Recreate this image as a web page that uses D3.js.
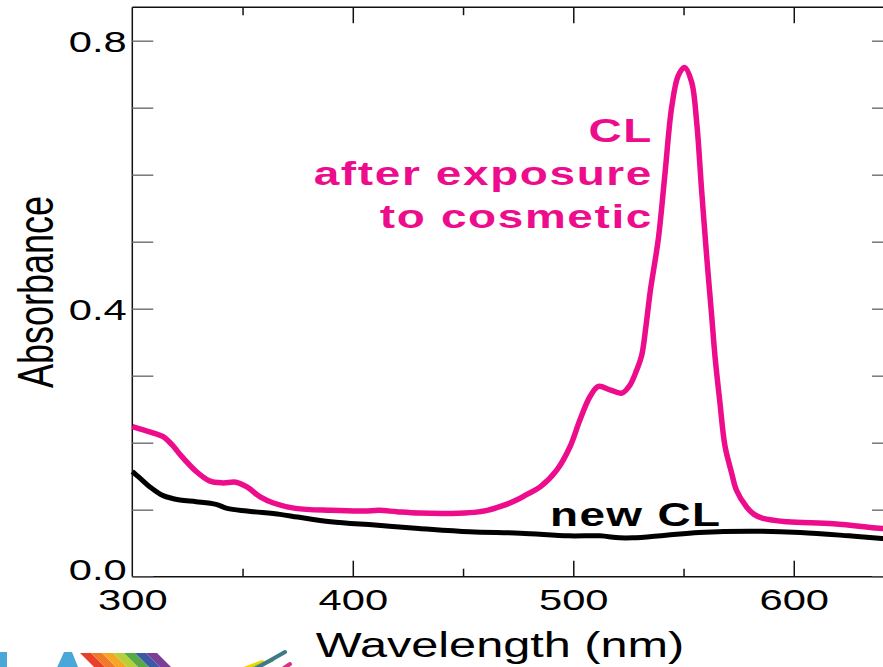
<!DOCTYPE html>
<html>
<head>
<meta charset="utf-8">
<script src="https://cdn.jsdelivr.net/npm/d3@7"></script>
<style>
  html, body { margin: 0; padding: 0; background: #fff; overflow: hidden; }
  svg { display: block; font-family: "Liberation Sans", Arial, sans-serif; }
</style>
</head>
<body>
<div id="main"></div>
<script>
// wavelength (nm) / absorbance
var exposedWl = [300, 305, 310, 314, 318, 322, 329, 335, 341, 347, 352, 358, 364, 374, 390, 405, 412, 420, 430, 445, 455, 461, 468, 474, 479, 485, 492.5, 498.5, 503, 507.6, 511.4, 516.6, 522, 525.7, 528.7, 531, 533, 535, 538.6, 541.6, 544.6, 547.6, 550.5, 553.7, 556, 558.2, 560.5, 562.8, 564.3, 566.5, 568.8, 571.8, 574, 578.6, 582, 586, 597, 618, 640, 645];
var exposedAbs = [0.224, 0.219, 0.214, 0.209, 0.197, 0.181, 0.157, 0.143, 0.140, 0.141, 0.134, 0.119, 0.110, 0.102, 0.099, 0.098, 0.099, 0.097, 0.095, 0.0945, 0.096, 0.099, 0.106, 0.114, 0.123, 0.134, 0.159, 0.194, 0.234, 0.269, 0.284, 0.279, 0.274, 0.286, 0.308, 0.330, 0.375, 0.428, 0.505, 0.602, 0.700, 0.748, 0.760, 0.738, 0.677, 0.577, 0.478, 0.388, 0.328, 0.260, 0.195, 0.155, 0.129, 0.104, 0.093, 0.087, 0.082, 0.079, 0.072, 0.071];

var newWl = [300, 303.5, 308, 314, 321.6, 329, 338, 343, 352, 367, 375, 390, 410, 430, 453, 476, 498, 512, 521, 527, 542, 557, 580, 603, 625, 640, 645];
var newAbs = [0.157, 0.147, 0.134, 0.121, 0.1145, 0.112, 0.108, 0.102, 0.098, 0.093, 0.089, 0.082, 0.077, 0.072, 0.067, 0.065, 0.061, 0.061, 0.058, 0.058, 0.062, 0.066, 0.068, 0.066, 0.061, 0.057, 0.056];

var xMajor = [300, 400, 500, 600];
var xMinor = [350, 450, 550, 650];
var yTicks = [0, 0.1, 0.2, 0.3, 0.4, 0.5, 0.6, 0.7, 0.8];
var yLabelled = [0, 0.4, 0.8];

const w = 883, h = 667;
const stretch = 1.39;   // the picture is widened horizontally
const pink = '#ed0c8b';

const x = d3.scaleLinear().domain([300, 645]).range([132.3, 893]);
const y = d3.scaleLinear().domain([0, 0.85]).range([576.7, 7.2]);

const svg = d3.select('#main').append('svg')
    .attr('width', w)
    .attr('height', h);

// logo pieces cut off at the bottom
const logo = svg.append('g');
logo.append('rect').attr('x', 0).attr('y', 652).attr('width', 7).attr('height', 20).attr('fill', '#4aa8d8');
logo.append('path').attr('d', 'M55,672 L64,652 L72,652 L80,672 Z').attr('fill', '#4aa8d8');
['#e8402a', '#f07a2a', '#f5a623', '#b7cf3a', '#5aa948', '#3b5ba6', '#7b3f98'].forEach((c, i) => {
    logo.append('path')
        .attr('d', 'M' + (80 + i * 11) + ',653 L' + (91 + i * 11) + ',653 L' + (110 + i * 11) + ',672 L' + (99 + i * 11) + ',672 Z')
        .attr('fill', c);
});
[['#f5d400', 236, 672, 262, 662], ['#8cc63f', 245, 672, 272, 660], ['#3d7a8c', 255, 669, 285, 652], ['#d63384', 278, 672, 290, 664]].forEach(s => {
    logo.append('line')
        .attr('x1', s[1]).attr('y1', s[2]).attr('x2', s[3]).attr('y2', s[4])
        .attr('stroke', s[0]).attr('stroke-width', 4).attr('stroke-linecap', 'round');
});

// frame lines
const plotLeft = x(300), plotRight = x(645), plotTop = y(0.85), plotBottom = y(0);
svg.append('line').attr('x1', plotLeft).attr('x2', plotLeft).attr('y1', plotTop).attr('y2', plotBottom)
    .attr('stroke', '#111').attr('stroke-width', 1.5);
svg.append('line').attr('x1', plotLeft).attr('x2', plotRight).attr('y1', plotTop).attr('y2', plotTop)
    .attr('stroke', '#111').attr('stroke-width', 1.5);
svg.append('line').attr('x1', plotLeft).attr('x2', plotRight).attr('y1', plotBottom).attr('y2', plotBottom)
    .attr('stroke', '#111').attr('stroke-width', 1.5);

// y axis, ticks pointing inward
const yAxis = d3.axisLeft(y)
    .tickValues(yTicks)
    .tickSize(-21)
    .tickPadding(4)
    .tickFormat(d => yLabelled.some(v => Math.abs(v - d) < 1e-9) ? d3.format('.1f')(d) : '');
const gy = svg.append('g')
    .attr('transform', 'translate(' + plotLeft + ',0)')
    .call(yAxis);
gy.select('.domain').remove();
gy.selectAll('.tick line').attr('stroke', '#777').attr('stroke-width', 1.5);
gy.selectAll('.tick text')
    .attr('fill', '#000')
    .style('font-size', '30px')
    .attr('dy', d => d === 0 ? '0.1em' : '0.37em')
    .attr('transform', 'scale(' + stretch + ',1)');

const gyr = svg.append('g')
    .attr('transform', 'translate(' + plotRight + ',0)')
    .call(d3.axisRight(y).tickValues(yTicks).tickSize(-21).tickFormat(''));
gyr.select('.domain').remove();
gyr.selectAll('.tick line').attr('stroke', '#777').attr('stroke-width', 1.5);

// x axis, bottom
const gx = svg.append('g')
    .attr('transform', 'translate(0,' + plotBottom + ')')
    .call(d3.axisBottom(x).tickValues(xMajor).tickSize(-16).tickPadding(12).tickFormat(d3.format('d')));
gx.select('.domain').remove();
gx.selectAll('.tick line').attr('stroke', '#111').attr('stroke-width', 1.5);
gx.selectAll('.tick text')
    .attr('fill', '#000')
    .style('font-size', '30px')
    .attr('transform', 'scale(' + stretch + ',1)');
gx.selectAll('.tick').filter(d => d === 300).select('line').remove();

const gxm = svg.append('g')
    .attr('transform', 'translate(0,' + plotBottom + ')')
    .call(d3.axisBottom(x).tickValues(xMinor).tickSize(-8).tickFormat(''));
gxm.select('.domain').remove();
gxm.selectAll('.tick line').attr('stroke', '#111').attr('stroke-width', 1.5);

// x axis, top
const gt = svg.append('g')
    .attr('transform', 'translate(0,' + plotTop + ')')
    .call(d3.axisTop(x).tickValues(xMajor.filter(d => d > 300)).tickSize(-16).tickFormat(''));
gt.select('.domain').remove();
gt.selectAll('.tick line').attr('stroke', '#111').attr('stroke-width', 1.5);
const gtm = svg.append('g')
    .attr('transform', 'translate(0,' + plotTop + ')')
    .call(d3.axisTop(x).tickValues(xMinor).tickSize(-8).tickFormat(''));
gtm.select('.domain').remove();
gtm.selectAll('.tick line').attr('stroke', '#111').attr('stroke-width', 1.5);

// axis titles
svg.append('text')
    .attr('transform', 'translate(500,657) scale(' + stretch + ',1)')
    .attr('text-anchor', 'middle')
    .style('font-size', '35px')
    .text('Wavelength (nm)');

svg.append('text')
    .attr('transform', 'translate(53,292) scale(' + stretch + ',1) rotate(-90)')
    .attr('text-anchor', 'middle')
    .style('font-size', '36px')
    .text('Absorbance');

// curves
const line = d3.line()
    .x(d => x(d[0]))
    .y(d => y(d[1]))
    .curve(d3.curveCatmullRom.alpha(0.5));

const newData = newWl.map((v, i) => [v, newAbs[i]]);
const exposedData = exposedWl.map((v, i) => [v, exposedAbs[i]]);

svg.append('path')
    .datum(newData)
    .attr('d', line)
    .attr('fill', 'none')
    .attr('stroke', '#000')
    .attr('stroke-width', 5)
    .attr('stroke-linejoin', 'round');

svg.append('path')
    .datum(exposedData)
    .attr('d', line)
    .attr('fill', 'none')
    .attr('stroke', pink)
    .attr('stroke-width', 5.5)
    .attr('stroke-linejoin', 'round');

// annotations
[['CL', 141.7], ['after exposure', 185], ['to cosmetic', 228]].forEach(t => {
    svg.append('text')
        .attr('transform', 'translate(653,' + t[1] + ') scale(' + stretch + ',1)')
        .attr('text-anchor', 'end')
        .attr('fill', pink)
        .style('font-size', '33px')
        .style('font-weight', 'bold')
        .style('letter-spacing', '1.2px')
        .text(t[0]);
});

svg.append('text')
    .attr('transform', 'translate(550,526) scale(' + stretch + ',1)')
    .attr('fill', '#000')
    .style('font-size', '33px')
    .style('font-weight', 'bold')
    .style('letter-spacing', '1px')
    .text('new CL');
</script>
</body>
</html>
